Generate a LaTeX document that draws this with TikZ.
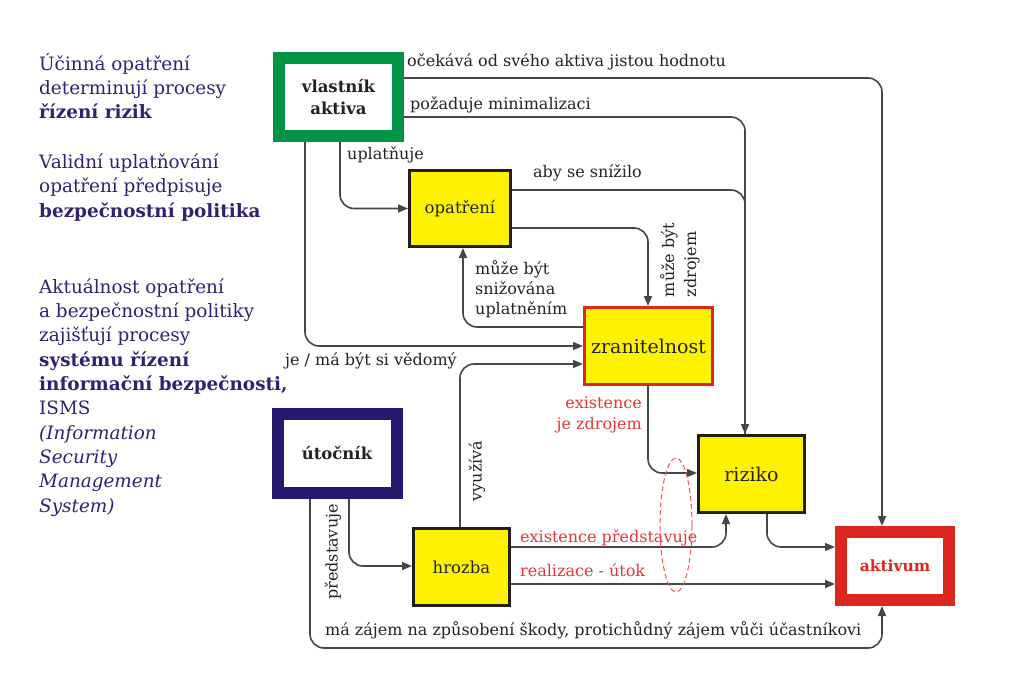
\documentclass[tikz,border=0pt]{standalone}
\usepackage{fontspec}
\setmainfont{DejaVu Serif}
\usetikzlibrary{arrows.meta,calc}
\definecolor{ngreen}{RGB}{0,148,68}
\definecolor{navybox}{RGB}{40,25,110}
\definecolor{navytext}{RGB}{45,35,115}
\definecolor{boxred}{RGB}{220,38,31}
\definecolor{redtext}{RGB}{230,55,55}
\definecolor{yel}{RGB}{255,242,0}
\definecolor{linec}{RGB}{70,70,70}
\definecolor{labc}{RGB}{35,35,35}
\definecolor{boxblack}{RGB}{35,30,25}
\begin{document}
\begin{tikzpicture}[x=1pt,y=-1pt,
  conn/.style={draw=linec,line width=1.6pt,rounded corners=14pt,-{Triangle[length=10pt,width=8pt]}},
  plainline/.style={draw=linec,line width=1.6pt,rounded corners=14pt},
  lbl/.style={font=\fontsize{16}{20}\selectfont,text=labc,inner sep=0pt},
  rlbl/.style={lbl,text=redtext},
  side/.style={font=\fontsize{18.4}{24.3}\selectfont,text=navytext,inner sep=0pt,align=left,anchor=base west},
  ybox/.style={draw=boxblack,fill=yel,line width=3pt,inner sep=0pt,text=labc},
  thickbox/.style={fill=white,line width=12pt,inner sep=0pt,text=labc,font=\bfseries\fontsize{16.5}{22}\selectfont,align=center},
]
\fill[white] (0,0) rectangle (1012,690);
\useasboundingbox (0,0) rectangle (1012,690);

% helper coordinates
\foreach \v in {78,117,190,228,327,346,364,473,547,566,584,648}{\coordinate (h\v) at (0,\v);}
\foreach \v in {305,310,340,349,460,463,648,726,745,767,882}{\coordinate (v\v) at (\v,0);}

% left text (base anchor = baseline of the last line)
\node[side] (p1) at (39,119) {Účinná opatření\\determinují procesy\\\textbf{řízení rizik}};
\node[side] (p2) at (39,217) {Validní uplatňování\\opatření předpisuje\\\textbf{bezpečnostní politika}};
\node[side] (p3) at (39,512) {Aktuálnost opatření\\a bezpečnostní politiky\\zajišťují procesy\\\textbf{systému řízení}\\\textbf{informační bezpečnosti,}\\ISMS\\\textit{(Information}\\\textit{Security}\\\textit{Management}\\\textit{System)}};

% boxes
\node[thickbox,draw=ngreen,minimum width=119pt,minimum height=78pt] (own) at (338.5,97) {vlastník\\aktiva};
\node[ybox,minimum width=101pt,minimum height=76pt,font=\fontsize{16.5}{20}\selectfont] (opat) at (460,208.5) {opatření};
\node[ybox,draw=boxred,minimum width=128pt,minimum height=77pt,font=\fontsize{19}{22}\selectfont] (zran) at (648.5,346) {zranitelnost};
\node[ybox,minimum width=106pt,minimum height=77pt,font=\fontsize{19}{22}\selectfont] (riz) at (751.5,474) {riziko};
\node[ybox,minimum width=96pt,minimum height=77pt,font=\fontsize{16.5}{20}\selectfont] (hroz) at (461.5,567) {hrozba};
\node[thickbox,draw=navybox,minimum width=119pt,minimum height=79pt] (utoc) at (337,453) {útočník};
\node[thickbox,draw=boxred,minimum width=108pt,minimum height=68pt,text=boxred,font=\bfseries\fontsize{15.5}{20}\selectfont] (akt) at (895,566) {aktivum};

% connectors
\draw[conn] (own.east|-h78) -| (v882|-akt.north);
\draw[conn] (own.east|-h117) -| (v745|-riz.north);
\draw[plainline] (opat.east|-h190) -| (v745|-riz.north);
\draw[conn] (own.south-|v340) |- (opat.west);
\draw[conn] (own.south-|v305) |- (zran.west|-h346);
\draw[conn] (opat.east|-h228) -| (zran.north-|v648);
\draw[conn] (zran.west|-h327) -| (opat.south-|v463);
\draw[conn] (hroz.north-|v460) |- (zran.west|-h364);
\draw[conn] (utoc.south-|v349) |- (hroz.west|-h566);
\draw[conn] (hroz.east|-h547) -| (riz.south-|v726);
\draw[conn] (hroz.east|-h584) -- (akt.west|-h584);
\draw[conn] (utoc.south-|v310) |- (h648-|v882) -- (akt.south-|v882);
\draw[conn] (zran.south-|v648) |- (riz.west|-h473);
\draw[conn] (riz.south-|v767) |- (akt.west|-h547);

% dashed ellipse
\draw[redtext!85,line width=1pt,dash pattern=on 5pt off 3pt] (676,525) ellipse [x radius=16pt, y radius=67pt];

% labels
\node[lbl,anchor=base west] (l1) at (407,67) {očekává od svého aktiva jistou hodnotu};
\node[lbl,anchor=base west] (l2) at (410,110) {požaduje minimalizaci};
\node[lbl,anchor=base west] (l3) at (347,160) {uplatňuje};
\node[lbl,anchor=base west] (l4) at (533,178) {aby se snížilo};
\node[lbl,rotate=90,align=left,font=\fontsize{16}{22}\selectfont] (l5) at (680,260) {může být\\zdrojem};
\node[lbl,anchor=west,align=left] (l6) at (475,289) {může být\\snižována\\uplatněním};
\node[lbl,anchor=base west] (l7) at (285,365) {je / má být si vědomý};
\node[lbl,rotate=90] (l8) at (477,471) {využívá};
\node[lbl,rotate=90] (l9) at (333,552) {představuje};
\node[rlbl,anchor=base west] (l10) at (520,542) {existence představuje};
\node[rlbl,anchor=base west] (l11) at (520,576) {realizace - útok};
\node[lbl,anchor=base west] (l12) at (325,635) {má zájem na způsobení škody, protichůdný zájem vůči účastníkovi};
\node[rlbl,anchor=east,align=right,font=\fontsize{16}{21}\selectfont] (l13) at (642,415) {existence\\je zdrojem};
\end{tikzpicture}
\end{document}
